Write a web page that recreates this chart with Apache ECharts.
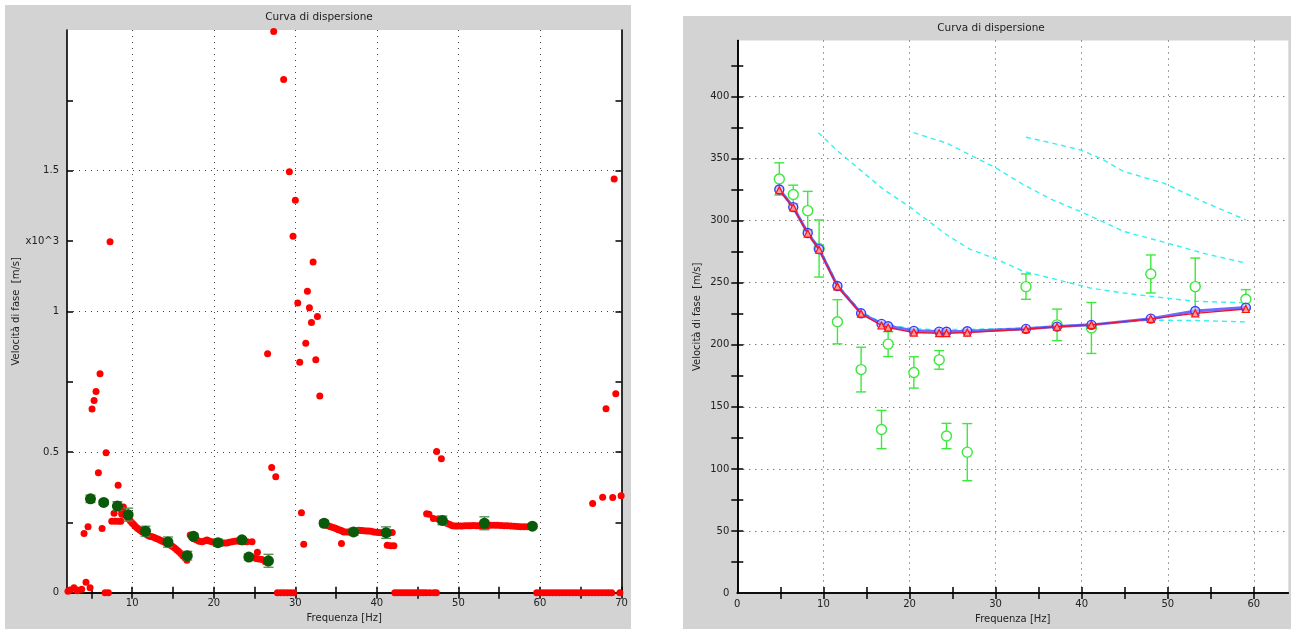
<!DOCTYPE html>
<html>
<head>
<meta charset="utf-8">
<script src="https://cdn.jsdelivr.net/npm/echarts@6/dist/echarts.min.js"></script>
<style>
html,body{margin:0;padding:0;background:#fff;}
#c{width:1298px;height:629px;}
</style>
</head>
<body>
<div id="c"></div>
<script>
// ---------- DATA ----------
// Experimental picks (frequency Hz, phase velocity m/s, half error)
const pickFreq = [4.88, 6.5, 8.18, 9.5, 11.63, 14.38, 16.75, 17.52, 20.51, 23.45, 24.3, 26.71, 33.53, 37.14, 41.13, 48.03, 53.19, 59.07];
const pickVel  = [333.5, 321, 308, 277.5, 218.5, 180, 131.7, 200.5, 177.7, 187.8, 126.5, 113.5, 246.8, 216, 213.5, 257, 246.8, 236.6];
const pickErr  = [13, 7.5, 15.5, 23, 17.8, 18, 15.4, 10, 12.6, 7.5, 10.2, 23, 10.2, 12.7, 20.5, 15.3, 23, 7.8];

// Model curves (right chart)
const blueVel = [325, 310.8, 290, 277, 247.3, 225.3, 216.8, 214.9, 211.2, 210.6, 210.5, 210.9, 212.8, 214.6, 216, 221, 227.2, 229.9];
const redVel  = [324.5, 310.5, 289.5, 276.5, 247, 225, 215.5, 213.8, 209.8, 209.3, 209.3, 209.8, 212.5, 214.5, 216, 220.8, 225.3, 228.8];

const cyan0Freq = [4.88, 6.5, 8.18, 9.5, 11.63, 14.38, 16.75, 17.52, 20.51, 23.45, 26.71, 33.53, 37.14, 41.13, 48.03, 53.19, 59.07];
const cyan0Vel  = [325.5, 311.5, 291, 278.5, 248.5, 226.5, 218, 216.2, 212.8, 212.2, 212.3, 213.4, 215, 216.5, 219.8, 219.5, 218.4];
const cyan1Freq = [9.42, 11.5, 14.27, 17, 20.07, 24.3, 27, 30.08, 33.26, 37.14, 41.0, 44.5, 47.99, 53.2, 59.07];
const cyan1Vel  = [370.8, 357, 340.8, 325, 310.8, 288.6, 277, 269, 259, 252.4, 245.7, 242, 239, 235, 233.7];
const cyan2Freq = [20.47, 24.35, 27, 30.08, 33.26, 36.5, 39.85, 44.9, 49.93, 54.5, 59.07];
const cyan2Vel  = [370.8, 362.3, 353, 342.2, 328.8, 317, 307.3, 291.2, 281.9, 273, 265.8];
const cyan3Freq = [33.53, 36.5, 39.85, 42.17, 44.9, 49.53, 54.5, 59.07];
const cyan3Vel  = [367.1, 362.5, 356.9, 350.2, 339.5, 330.1, 314, 300.6];

// Raw spectral maxima (left chart) [frequency Hz, velocity x10^3 m/s]
const rawPoints = [
 [27.35,1.995],[28.57,1.824],[29.27,1.496],[30.0,1.395],[29.72,1.267],[32.18,1.175],[31.48,1.071],[30.3,1.03],
 [31.73,1.013],[32.71,0.982],[31.98,0.96],[31.28,0.887],[26.6,0.849],[30.54,0.819],[32.51,0.828],[33.0,0.699],[7.28,1.247],
 [6.05,0.778],[5.56,0.715],[5.32,0.683],[5.07,0.653],[6.79,0.497],[5.85,0.426],[8.27,0.382],[8.92,0.305],[7.77,0.282],
 [7.49,0.254],[7.9,0.254],[8.3,0.254],[8.6,0.254],[8.72,0.279],[4.09,0.21],[4.58,0.234],[6.3,0.228],
 [2.12,0.005],[2.37,0.01],[2.86,0.018],[3.19,0.01],[3.27,0.007],[3.8,0.012],[4.33,0.037],[4.83,0.018],[6.67,0],[7.07,0],
 [8.72,0.287],[8.95,0.281],[9.13,0.276],[9.33,0.270],[9.53,0.264],[9.75,0.256],[9.95,0.249],[10.15,0.243],[10.35,0.237],
 [10.56,0.231],[10.75,0.226],[10.97,0.222],[11.2,0.217],[11.46,0.213],[11.7,0.208],[11.95,0.203],[12.2,0.200],[12.45,0.199],
 [12.7,0.196],[12.95,0.193],[13.2,0.190],[13.45,0.186],[13.7,0.183],[13.95,0.180],[14.2,0.177],[14.45,0.173],[14.7,0.169],
 [14.95,0.164],[15.2,0.159],[15.45,0.153],[15.7,0.146],[15.95,0.139],[16.2,0.131],[16.45,0.124],[16.7,0.115],
 [17.11,0.205],[17.3,0.199],[17.52,0.193],[17.75,0.19],[17.93,0.187],[18.2,0.183],[18.55,0.181],[18.85,0.184],[19.16,0.187],
 [19.45,0.184],[19.78,0.181],[20.1,0.178],[20.39,0.175],[20.7,0.176],[21.0,0.177],[21.3,0.177],[21.62,0.177],[21.9,0.179],
 [22.23,0.181],[22.55,0.183],[22.85,0.184],[23.15,0.183],[23.46,0.181],[23.8,0.181],[24.08,0.181],[24.69,0.181],[25.35,0.144],
 [24.27,0.124],[24.55,0.124],[24.88,0.124],[25.2,0.122],[25.5,0.120],[25.9,0.118],[26.32,0.110],[26.65,0.106],
 [27.1,0.445],[27.6,0.412],[27.8,0],[28.2,0],[28.6,0],[29.0,0],[29.4,0],[29.8,0],[30.75,0.284],[31.03,0.172],
 [33.5,0.244],[33.8,0.240],[34.1,0.237],[34.35,0.234],[34.63,0.232],[34.9,0.229],[35.12,0.226],[35.3,0.224],[35.53,0.222],
 [35.75,0.219],[35.94,0.216],[36.25,0.216],[36.55,0.216],[36.85,0.215],[37.17,0.213],[37.5,0.218],[37.78,0.222],[38.1,0.221],
 [38.39,0.220],[38.7,0.219],[39.0,0.219],[39.3,0.218],[39.63,0.216],[39.95,0.215],[40.24,0.214],[40.55,0.213],[40.85,0.213],
 [41.15,0.212],[41.47,0.211],[41.88,0.214],[35.66,0.175],[41.27,0.169],[41.68,0.167],[42.09,0.167],
 [42.2,0],[42.55,0],[42.9,0],[43.25,0],[43.6,0],[43.95,0],[44.3,0],[44.65,0],[45.0,0],[45.35,0],[45.7,0],[46.05,0],[46.5,0],[47.0,0],[47.3,0],
 [47.33,0.502],[47.91,0.476],
 [46.1,0.281],[46.39,0.279],[46.93,0.264],[47.5,0.262],[48.03,0.254],[48.35,0.250],[48.65,0.246],[48.95,0.242],[49.26,0.238],
 [49.57,0.237],[49.87,0.237],[50.2,0.237],[50.5,0.237],[50.85,0.238],[51.2,0.238],[51.5,0.238],[51.85,0.239],[52.2,0.238],
 [52.5,0.238],[52.85,0.237],[53.2,0.236],[53.55,0.238],[53.97,0.240],[54.4,0.240],[54.79,0.240],[55.2,0.239],[55.61,0.238],
 [56.0,0.238],[56.43,0.237],[56.85,0.236],[57.25,0.235],[57.65,0.234],[58.07,0.234],[58.5,0.234],[58.88,0.234],[59.2,0.233],
 [59.6,0],[60.0,0],[60.4,0],[60.8,0],[61.2,0],[61.6,0],[62.0,0],[62.4,0],[62.8,0],[63.2,0],[63.6,0],[64.0,0],[64.4,0],[64.8,0],
 [65.2,0],[65.6,0],[66.0,0],[66.4,0],[66.8,0],[67.2,0],[67.6,0],[68.0,0],[68.4,0],[68.8,0],[69.8,0],
 [66.46,0.317],[67.69,0.339],[68.92,0.338],[69.95,0.345],[68.1,0.654],[69.1,1.47],[69.3,0.707]
];

// Axis ticks / labels
const leftXTicks  = [5,10,15,20,25,30,35,40,45,50,55,60,65,70];
const leftXLabels = [10,20,30,40,50,60,70];
const leftXGrid   = [10,20,30,40,50,60];
const leftYTicks  = [0.25,0.5,0.75,1,1.25,1.5,1.75];
const leftYLabels = [0,0.5,1,1.25,1.5];
const leftYLabelText = {0:'0',0.5:'0.5',1:'1',1.25:'x10^3',1.5:'1.5'};
const leftYGrid   = [0.5,1,1.5];
const rightXTicks  = [5,10,15,20,25,30,35,40,45,50,55,60];
const rightXLabels = [0,10,20,30,40,50,60];
const rightXGrid   = [10,20,30,40,50,60];
const rightYTicks  = [25,50,75,100,125,150,175,200,225,250,275,300,325,350,375,400,425];
const rightYLabels = [0,50,100,150,200,250,300,350,400];
const rightYGrid   = [50,100,150,200,250,300,350,400];

// ---------- CHART ----------
const FONT = 'DejaVu Sans';
const chart = echarts.init(document.getElementById('c'));

function zip(xs, ys) { return xs.map((x, i) => [x, ys[i]]); }
const pickRight = pickFreq.map((f, i) => [f, pickVel[i], pickErr[i]]);
const pickLeft  = pickFreq.map((f, i) => [f, pickVel[i] / 1000, pickErr[i] / 1000]);

function errBar(color, cap, width) {
  return function (params, api) {
    const x = api.value(0), y = api.value(1), e = api.value(2);
    const t = api.coord([x, y + e]);
    const b = api.coord([x, y - e]);
    const st = { stroke: color, lineWidth: width };
    return {
      type: 'group',
      children: [
        { type: 'line', shape: { x1: t[0], y1: t[1], x2: b[0], y2: b[1] }, style: st },
        { type: 'line', shape: { x1: t[0] - cap, y1: t[1], x2: t[0] + cap, y2: t[1] }, style: st },
        { type: 'line', shape: { x1: b[0] - cap, y1: b[1], x2: b[0] + cap, y2: b[1] }, style: st }
      ]
    };
  };
}

const axLine = { show: true, lineStyle: { color: '#000', width: 1.6 } };
const lblStyle = { color: '#222', fontSize: 10, fontFamily: FONT };
const gridLine = { show: true, lineStyle: { color: '#444', width: 1, type: [1, 5] } };

function xAxes(g, min, max, ticks, labels, grid, name) {
  return [
    { type: 'value', gridIndex: g, position: 'bottom', min, max,
      axisLine: axLine, axisTick: { show: true, inside: true, length: 6, customValues: ticks, lineStyle: { color: '#000', width: 1.5 } },
      axisLabel: Object.assign({ customValues: labels, margin: 6 }, lblStyle),
      splitLine: { show: false },
      name, nameLocation: 'middle', nameGap: 19, nameTextStyle: { color: '#222', fontSize: 10, fontFamily: FONT } },
    { type: 'value', gridIndex: g, position: 'top', min, max,
      axisLine: axLine, axisTick: { show: true, inside: true, length: 6, customValues: ticks, lineStyle: { color: '#000', width: 1.5 } },
      axisLabel: { show: false }, splitLine: { show: false } },
    { type: 'value', gridIndex: g, position: 'bottom', min, max,
      axisLine: { show: false }, axisTick: { show: false, customValues: grid },
      axisLabel: { show: false }, splitLine: gridLine }
  ];
}
function yAxes(g, min, max, ticks, labels, grid, name, gap, fmt) {
  return [
    { type: 'value', gridIndex: g, position: 'left', min, max,
      axisLine: axLine, axisTick: { show: true, inside: true, length: 6, customValues: ticks, lineStyle: { color: '#000', width: 1.5 } },
      axisLabel: Object.assign({ customValues: labels, margin: 8, formatter: fmt }, lblStyle),
      splitLine: { show: false },
      name, nameLocation: 'middle', nameGap: gap, nameTextStyle: { color: '#222', fontSize: 10, fontFamily: FONT } },
    { type: 'value', gridIndex: g, position: 'right', min, max,
      axisLine: axLine, axisTick: { show: true, inside: true, length: 6, customValues: ticks, lineStyle: { color: '#000', width: 1.5 } },
      axisLabel: { show: false }, splitLine: { show: false } },
    { type: 'value', gridIndex: g, position: 'left', min, max,
      axisLine: { show: false }, axisTick: { show: false, customValues: grid },
      axisLabel: { show: false }, splitLine: gridLine }
  ];
}

const cyanStyle = { color: '#33f2f2', width: 1.4, type: [5, 4] };
function cyan(xs, ys) {
  return { type: 'line', xAxisIndex: 3, yAxisIndex: 3, data: zip(xs, ys), symbol: 'none', lineStyle: cyanStyle, z: 2, silent: true };
}

const option = {
  backgroundColor: '#ffffff',
  animation: false,
  graphic: { elements: [
    { type: 'rect', shape: { x: 5, y: 5, width: 626, height: 624 }, style: { fill: '#d3d3d3' }, z: -100 },
    { type: 'rect', shape: { x: 683, y: 16, width: 608, height: 613 }, style: { fill: '#d3d3d3' }, z: -100 },
    { type: 'text', x: 319, y: 17, style: { text: 'Curva di dispersione', fill: '#222', font: '10.5px "DejaVu Sans"', align: 'center', verticalAlign: 'middle' }, z: 10 },
    { type: 'text', x: 991, y: 28, style: { text: 'Curva di dispersione', fill: '#222', font: '10.5px "DejaVu Sans"', align: 'center', verticalAlign: 'middle' }, z: 10 }
  ]},
  grid: [
    { left: 67, top: 30, width: 554.5, height: 562.7, show: true, backgroundColor: '#fff', borderWidth: 0 },
    { left: 737.3, top: 40.5, width: 551, height: 553.5, show: true, backgroundColor: '#fff', borderWidth: 0 }
  ],
  xAxis: [].concat(
    xAxes(0, 2, 70, leftXTicks, leftXLabels, leftXGrid, 'Frequenza [Hz]'),
    xAxes(1, 0, 64, rightXTicks, rightXLabels, rightXGrid, 'Frequenza [Hz]')
  ),
  yAxis: [].concat(
    yAxes(0, 0, 2, leftYTicks, leftYLabels, leftYGrid, 'Velocità di fase  [m/s]', 44, v => leftYLabelText[v] !== undefined ? leftYLabelText[v] : ''),
    yAxes(1, 0, 445, rightYTicks, rightYLabels, rightYGrid, 'Velocità di fase  [m/s]', 35, v => String(v))
  ),
  series: [
    // left chart
    { type: 'scatter', xAxisIndex: 0, yAxisIndex: 0, data: rawPoints, symbol: 'circle', symbolSize: 7,
      itemStyle: { color: '#ff0000', opacity: 1 }, z: 3, silent: true },
    { type: 'custom', xAxisIndex: 0, yAxisIndex: 0, data: pickLeft, encode: { x: 0, y: 1 },
      renderItem: errBar('#4f8a4f', 5, 1.3), z: 4, silent: true },
    { type: 'scatter', xAxisIndex: 0, yAxisIndex: 0, data: pickLeft.map(p => [p[0], p[1]]), symbol: 'circle', symbolSize: 11,
      itemStyle: { color: '#0a5a0a', opacity: 1 }, z: 5, silent: true },
    // right chart
    cyan(cyan0Freq, cyan0Vel), cyan(cyan1Freq, cyan1Vel), cyan(cyan2Freq, cyan2Vel), cyan(cyan3Freq, cyan3Vel),
    { type: 'custom', xAxisIndex: 3, yAxisIndex: 3, data: pickRight, encode: { x: 0, y: 1 },
      renderItem: errBar('#3de83d', 5, 1.4), z: 3, silent: true },
    { type: 'scatter', xAxisIndex: 3, yAxisIndex: 3, data: pickRight.map(p => [p[0], p[1]]), symbol: 'circle', symbolSize: 10,
      itemStyle: { color: '#ffffff', borderColor: '#3de83d', borderWidth: 1.4, opacity: 1 }, z: 4, silent: true },
    { type: 'line', xAxisIndex: 3, yAxisIndex: 3, data: zip(pickFreq, blueVel), symbol: 'circle', symbolSize: 9,
      itemStyle: { color: 'rgba(190,190,255,0.7)', borderColor: '#3a3aff', borderWidth: 1.4 },
      lineStyle: { color: 'rgba(70,70,255,0.8)', width: 3 }, z: 5, silent: true },
    { type: 'line', xAxisIndex: 3, yAxisIndex: 3, data: zip(pickFreq, redVel), symbol: 'triangle', symbolSize: 7,
      itemStyle: { color: '#ff9a9a', borderColor: '#ff1010', borderWidth: 1.2 },
      lineStyle: { color: '#ee1133', width: 1.4 }, z: 6, silent: true }
  ]
};
chart.setOption(option);
</script>
</body>
</html>
